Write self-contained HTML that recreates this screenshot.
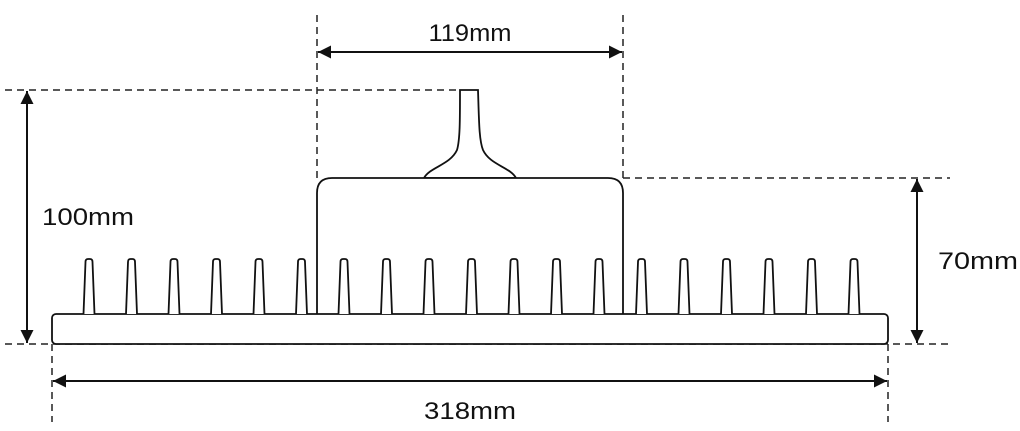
<!DOCTYPE html>
<html><head><style>html,body{margin:0;padding:0;background:#fff}svg{display:block}</style></head>
<body>
<svg width="1020" height="431" viewBox="0 0 1020 431" xmlns="http://www.w3.org/2000/svg">
<defs>
<marker id="a" viewBox="0 0 12 12" refX="12" refY="6" markerWidth="13" markerHeight="13" markerUnits="userSpaceOnUse" orient="auto-start-reverse"><path d="M0,0 L12,6 L0,12 z" fill="#111"/></marker>
<path id="p" d="M-5.5,314 L-3.5,262 Q-3.5,259 -1,259 L1,259 Q3.5,259 3.5,262 L5.5,314" stroke="#111" stroke-width="1.8" fill="#fff"/>
</defs>
<g stroke="#222" stroke-width="1.5" fill="none" stroke-dasharray="7,5">
<line x1="5" y1="90" x2="460" y2="90"/>
<line x1="5" y1="344" x2="950" y2="344"/>
<line x1="623" y1="178" x2="950" y2="178"/>
<line x1="317" y1="15" x2="317" y2="178"/>
<line x1="623" y1="15" x2="623" y2="178"/>
<line x1="52" y1="344" x2="52" y2="422"/>
<line x1="888" y1="344" x2="888" y2="422"/>
</g>
<g stroke="#111" stroke-width="2" fill="none">
<line x1="27" y1="91" x2="27" y2="343" marker-start="url(#a)" marker-end="url(#a)"/>
<line x1="917" y1="179" x2="917" y2="343" marker-start="url(#a)" marker-end="url(#a)"/>
<line x1="318" y1="52" x2="622" y2="52" marker-start="url(#a)" marker-end="url(#a)"/>
<line x1="53" y1="381" x2="887" y2="381" marker-start="url(#a)" marker-end="url(#a)"/>
</g>
<g stroke="#111" stroke-width="1.8" fill="#fff">
<path d="M460,90 L478,90 C479,120 479,140 483,150 C490,165 510,167 516,178 L424,178 C430,167 450,165 457,150 C460,140 460,120 460,90 Z"/>
<path d="M317,314 L317,193 Q317,178 332,178 L608,178 Q623,178 623,193 L623,314"/>
<rect x="52" y="314" width="836" height="30" rx="4"/>
</g>
<use href="#p" x="89"/><use href="#p" x="131.5"/><use href="#p" x="174"/><use href="#p" x="216.5"/>
<use href="#p" x="259"/><use href="#p" x="301.5"/><use href="#p" x="344"/><use href="#p" x="386.5"/>
<use href="#p" x="429"/><use href="#p" x="471.5"/><use href="#p" x="514"/><use href="#p" x="556.5"/>
<use href="#p" x="599"/><use href="#p" x="641.5"/><use href="#p" x="684"/><use href="#p" x="726.5"/>
<use href="#p" x="769"/><use href="#p" x="811.5"/><use href="#p" x="854"/>
<g font-family="'Liberation Sans',sans-serif" font-size="24" fill="#111">
<text x="470" y="41" text-anchor="middle" textLength="83" lengthAdjust="spacingAndGlyphs">119mm</text>
<text x="42" y="225" textLength="92" lengthAdjust="spacingAndGlyphs">100mm</text>
<text x="938" y="269" textLength="80" lengthAdjust="spacingAndGlyphs">70mm</text>
<text x="470" y="419" text-anchor="middle" textLength="92" lengthAdjust="spacingAndGlyphs">318mm</text>
</g>
</svg>
</body></html>
